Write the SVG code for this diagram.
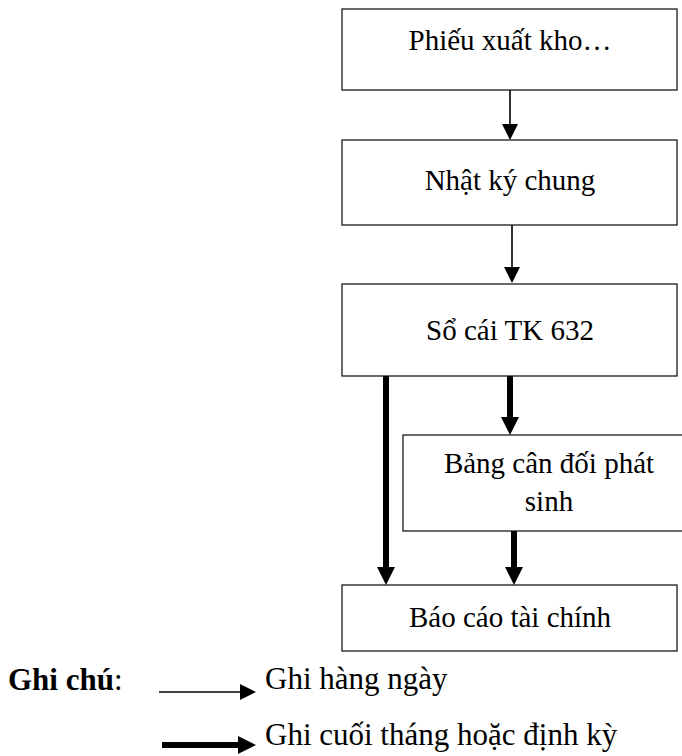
<svg xmlns="http://www.w3.org/2000/svg" width="682" height="756" viewBox="0 0 682 756">
  <style>
    .box { fill: #ffffff; stroke: #1a1a1a; stroke-width: 1.3; }
    .lbl { font-family: "Liberation Serif", "Times New Roman", serif; font-size: 29px; fill: #000; text-anchor: middle; }
    .leg { font-family: "Liberation Serif", "Times New Roman", serif; font-size: 31px; fill: #000; }
    .thin { stroke: #000; stroke-width: 1.6; fill: none; marker-end: url(#headThin); }
    .thick { stroke: #000; stroke-width: 6; fill: none; marker-end: url(#headThick); }
  </style>
  <defs>
    <marker id="headThin" markerUnits="userSpaceOnUse" viewBox="0 0 16 16" refX="0" refY="8" markerWidth="16" markerHeight="16" orient="auto">
      <path d="M0,0 L16,8 L0,16 Z" fill="#000"/>
    </marker>
    <marker id="headThick" markerUnits="userSpaceOnUse" viewBox="0 0 18 18" refX="0" refY="9" markerWidth="18" markerHeight="18" orient="auto">
      <path d="M0,0 L18,9 L0,18 Z" fill="#000"/>
    </marker>
  </defs>

  <rect width="682" height="756" fill="#ffffff"/>

  <g id="node-phieu-xuat-kho">
    <rect class="box" x="342" y="9" width="335" height="81"/>
    <text class="lbl" x="510" y="50">Phiếu xuất kho…</text>
  </g>

  <g id="node-nhat-ky-chung">
    <rect class="box" x="342" y="140" width="335" height="85"/>
    <text class="lbl" x="510" y="190">Nhật ký chung</text>
  </g>

  <g id="node-so-cai">
    <rect class="box" x="342" y="284" width="335" height="92"/>
    <text class="lbl" x="510" y="340">Sổ cái TK 632</text>
  </g>

  <g id="node-bang-can-doi">
    <rect class="box" x="403" y="435" width="292" height="96"/>
    <text class="lbl" x="549" y="473">Bảng cân đối phát</text>
    <text class="lbl" x="549" y="511">sinh</text>
  </g>

  <g id="node-bao-cao">
    <rect class="box" x="342" y="585" width="335" height="66"/>
    <text class="lbl" x="510" y="627">Báo cáo tài chính</text>
  </g>

  <g id="connectors">
    <line class="thin" x1="510" y1="90" x2="510" y2="124"/>
    <line class="thin" x1="512" y1="225" x2="512" y2="267"/>
    <line class="thick" x1="510" y1="376" x2="510" y2="417"/>
    <line class="thick" x1="386" y1="376" x2="386" y2="567"/>
    <line class="thick" x1="514" y1="531" x2="514" y2="567"/>
  </g>

  <g id="legend">
    <text class="leg" x="8" y="690"><tspan font-weight="bold">Ghi chú</tspan>:</text>
    <line class="thin" x1="159" y1="692" x2="240" y2="692"/>
    <text class="leg" x="265" y="689">Ghi hàng ngày</text>
    <line class="thick" x1="162" y1="745" x2="238" y2="745"/>
    <text class="leg" x="265" y="745">Ghi cuối tháng hoặc định kỳ</text>
  </g>
</svg>
